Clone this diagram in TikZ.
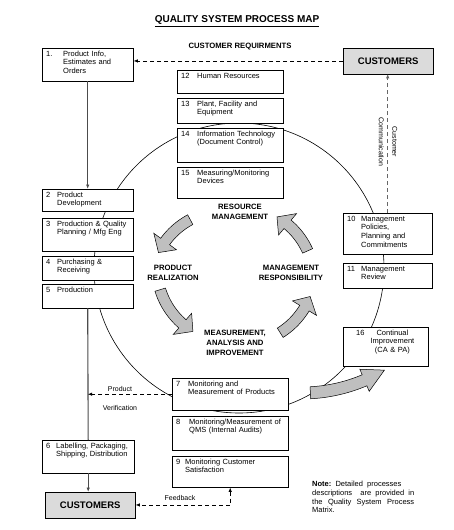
\documentclass[tikz,border=0pt]{standalone}
\usepackage{fontspec}
\setmainfont{Liberation Sans}
\usetikzlibrary{arrows.meta}
\newcommand{\boxfont}{\fontsize{7.5}{8.7}\selectfont}
\newcommand{\labfont}{\fontsize{7.7}{9.7}\selectfont\bfseries}
\newcommand{\ptext}[3][11pt]{\begin{tabular}[t]{@{}p{#1}@{}l@{}}#2&\begin{tabular}[t]{@{}l@{}}#3\end{tabular}\end{tabular}}
\newcommand{\bendarrow}[8]{%
  \filldraw[bendfill] plot[domain=#4:#5, samples=16] ({#1+(#3+#7)*cos(\x)},{#2+(#3+#7)*sin(\x)})
    -- ({#1+(#3+#8)*cos(#5)},{#2+(#3+#8)*sin(#5)})
    -- ({#1+#3*cos(#6)},{#2+#3*sin(#6)})
    -- ({#1+(#3-#8)*cos(#5)},{#2+(#3-#8)*sin(#5)})
    -- plot[domain=#5:#4, samples=16] ({#1+(#3-#7)*cos(\x)},{#2+(#3-#7)*sin(\x)}) -- cycle;}
\pgfkeys{tikz/procbox/.style={draw, fill=white, anchor=north west, align=left,
                              inner xsep=4pt, inner ysep=2.5pt, font=\boxfont, text height=5.5pt}}
\pgfkeys{tikz/custbox/.style={draw, fill=black!14, anchor=north west, inner sep=0pt,
                              minimum width=90pt, minimum height=25.5pt,
                              font=\fontsize{9.5}{11}\selectfont\bfseries}}
\pgfkeys{tikz/biglabel/.style={align=center, inner sep=1pt, font=\labfont}}
\pgfkeys{tikz/smalltext/.style={inner sep=1pt, font=\fontsize{7}{8.5}\selectfont}}
\pgfkeys{tikz/flow/.style={draw=black!70, line width=1.1pt}}
\pgfkeys{tikz/dashline/.style={line width=0.8pt, dash pattern=on 4pt off 3pt}}
\pgfkeys{tikz/commline/.style={draw=black!60, line width=1.3pt, dash pattern=on 4pt off 3pt}}
\pgfkeys{tikz/bendfill/.style={fill=black!25, draw=black, line width=0.5pt}}

\begin{document}
\begin{tikzpicture}[x=1pt, y=-1pt, >={Latex[length=4.5pt,width=3.5pt]}]
            \useasboundingbox (0,0) rectangle (454,530);

            \draw[line width=0.6pt] (239,268) circle[radius=145];

            \node[font=\fontsize{10}{12}\selectfont\bfseries] (title) at (237,21) {\underline{QUALITY SYSTEM PROCESS MAP}};
            \node[biglabel] (req) at (240,47) {CUSTOMER REQUIRMENTS};

            \node[custbox] (cust1) at (343,48) {CUSTOMERS};
            \node[custbox] (cust2) at (45,492) {CUSTOMERS};

                    \node[procbox, text width=83pt, text depth=22.5pt] (b1) at (42,48) {\ptext[17pt]{1.}{Product Info,\\Estimates and\\Orders}};
                    \node[procbox, text width=83pt, text depth=11.5pt] (b2) at (42,189) {\ptext{2}{Product\\Development}};
                    \node[procbox, text width=83pt, text depth=22.5pt] (b3) at (42,218) {\ptext{3}{Production \& Quality\\Planning / Mfg Eng}};
                    \node[procbox, text width=83pt, text depth=13.5pt] (b4) at (42,256) {\ptext{4}{Purchasing \&\\Receiving}};
                    \node[procbox, text width=83pt, text depth=13.5pt] (b5) at (42,284) {\ptext{5}{Production}};
                    \node[procbox, text width=84pt, text depth=22.5pt] (b6) at (42,440) {\ptext[10pt]{6}{Labelling, Packaging,\\Shipping, Distribution}};

                    \node[procbox, text width=108pt, text depth=21.5pt] (b7) at (172,378) {\ptext[12pt]{7}{Monitoring and\\Measurement of Products}};
                    \node[procbox, text width=108pt, text depth=23.5pt] (b8) at (172,416) {\ptext[13pt]{8}{Monitoring/Measurement of\\QMS (Internal Audits)}};
                    \node[procbox, text width=108pt, text depth=20.5pt] (b9) at (172,456) {\ptext[9pt]{9}{Monitoring Customer\\Satisfaction}};

                    \node[procbox, text width=81pt, text depth=30.5pt] (b10) at (343,213) {\ptext[14pt]{10}{Management\\Policies,\\Planning and\\Commitments}};
                    \node[procbox, text width=81pt, text depth=14.5pt] (b11) at (343,263) {\ptext[14pt]{11}{Management\\Review}};

                    \node[procbox, text width=98pt, text depth=12.5pt] (b12) at (177,70) {\ptext[16pt]{12}{Human Resources}};
                    \node[procbox, text width=98pt, text depth=14.5pt] (b13) at (177,98) {\ptext[16pt]{13}{Plant, Facility and\\Equipment}};
                    \node[procbox, text width=98pt, text depth=23.5pt] (b14) at (177,128) {\ptext[16pt]{14}{Information Technology\\(Document Control)}};
                    \node[procbox, text width=98pt, text depth=20.5pt] (b15) at (177,167) {\ptext[16pt]{15}{Measuring/Monitoring\\Devices}};

                    \node[procbox, text width=77pt, text depth=28.5pt] (b16) at (343,327) {\hspace*{9pt}16\hspace{6pt}\begin{tabular}[t]{@{}c@{}}Continual\\Improvement\\(CA \& PA)\end{tabular}};

            \node[biglabel] (resmgmt) at (240,212) {RESOURCE\\MANAGEMENT};
            \node[biglabel] (prodreal) at (173,273) {PRODUCT\\REALIZATION};
            \node[biglabel] (mgmtresp) at (291,273) {MANAGEMENT\\RESPONSIBILITY};
            \node[biglabel] (meas) at (235,343) {MEASUREMENT,\\ANALYSIS AND\\IMPROVEMENT};

            \node[smalltext, rotate=-90, align=center] (comm) at (388,142) {Customer\\[5pt]Communication};
            \node[smalltext] (prodlab) at (120,389) {Product};
            \node[smalltext] (veriflab) at (120,408) {Verification};
            \node[smalltext] (feedlab) at (180,498) {Feedback};

            \node[anchor=north west, inner sep=0pt, text width=102pt, align=justify,
                  font=\fontsize{7.5}{8.7}\selectfont] (note) at (312,481)
                  {\textbf{Note:}\ \ Detailed\ \ processes\\ descriptions\ \ are provided in\linebreak the Quality System Process\linebreak Matrix.};

                    \draw[flow, ->] (b1.south) -- (b2.north);
                    \draw[flow] (b5.south) -- (b6.north);
                    \draw[flow, ->] (b6.south) -- (b6.south |- cust2.north);

                    \draw[dashline, ->] (cust1.west) -- (cust1.west -| b1.east);
                    \draw[commline, ->] (b10.north) -- (b10.north |- cust1.south);
                    \draw[dashline, ->] (b7.west) -- (b7.west -| b5.south);
                    \draw[dashline, <->] (b9.south) |- (cust2.east);

            \bendarrow{225}{285}{74}{242}{216}{206}{5.5}{14}
            \bendarrow{240}{281}{74}{336}{310}{300}{5.5}{14}
            \bendarrow{231}{268}{74}{163}{131}{121}{5.5}{14}
            \bendarrow{241}{270}{74}{58}{31}{21}{5.5}{14}
            \bendarrow{302}{233}{160}{87}{67}{59}{6}{12}
\end{tikzpicture}
\end{document}
